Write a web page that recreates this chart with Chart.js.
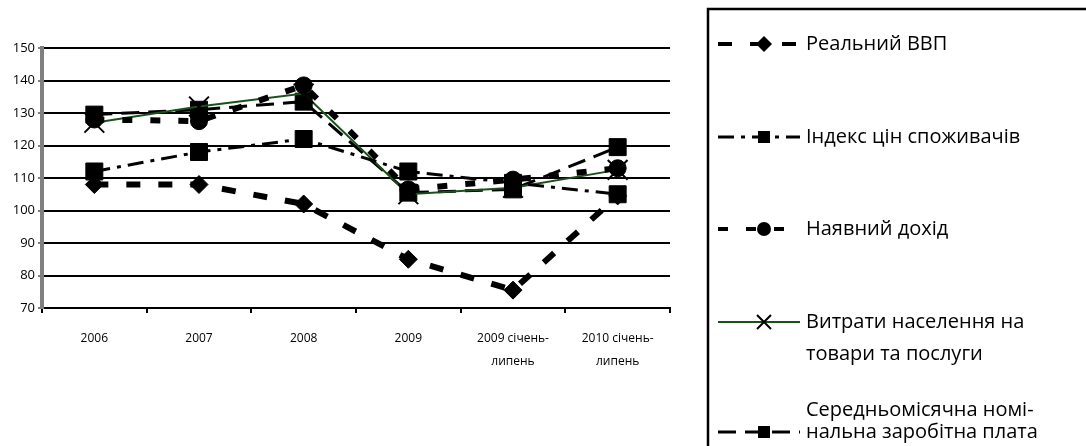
<!DOCTYPE html>
<html lang="uk">

<head>
  <meta charset="UTF-8" />
  <title>Динаміка показників</title>
  <script src="https://cdn.jsdelivr.net/npm/chart.js@4.4.0/dist/chart.umd.min.js"></script>
  <style>
    body { margin: 0; background: #fff; }
    #chart { display: block; }
  </style>
</head>

<body>
  <canvas id="chart" width="1086" height="446"></canvas>

  <script>
    // categories and series (index, % to previous period)
    const years = ["2006", "2007", "2008", "2009", ["2009 січень-", "липень"], ["2010 січень-", "липень"]];
    const gdp = [108, 108, 102, 85, 75.5, 104.5];
    const cpi = [112, 118, 122, 112, 108.5, 105];
    const income = [128, 127.5, 138.5, 106.5, 109.5, 113];
    const spending = [127, 132, 136, 105, 107, 112.5];
    const wages = [129.5, 131, 133.5, 105.5, 106.5, 119.5];
    const seriesNames = [
      ["Реальний ВВП"],
      ["Індекс цін споживачів"],
      ["Наявний дохід"],
      ["Витрати населення на", "товари та послуги"],
      ["Середньомісячна номі-", "нальна заробітна плата"],
    ];

    const FONT = "'Open Sans', 'Noto Sans', sans-serif";
    const GREEN = "#1a501a";

    function drawMarker(ctx, style, x, y, r) {
      ctx.beginPath();
      if (style === "rectRot") {
        ctx.moveTo(x - r, y); ctx.lineTo(x, y - r); ctx.lineTo(x + r, y); ctx.lineTo(x, y + r);
        ctx.closePath(); ctx.fill();
      } else if (style === "rect") {
        ctx.rect(x - r, y - r, 2 * r, 2 * r); ctx.fill();
      } else if (style === "circle") {
        ctx.arc(x, y, r, 0, Math.PI * 2); ctx.fill();
      } else {
        ctx.lineWidth = 2;
        ctx.moveTo(x - r, y - r); ctx.lineTo(x + r, y + r);
        ctx.moveTo(x + r, y - r); ctx.lineTo(x - r, y + r);
        ctx.stroke();
      }
    }

    // legend on the right, drawn on the canvas
    const sideLegend = {
      id: "sideLegend",
      afterDraw(chart) {
        const ctx = chart.ctx;
        const rows = [
          { y: 44, text: [44] },
          { y: 137, text: [137] },
          { y: 229, text: [229] },
          { y: 322, text: [322, 354] },
          { y: 432, text: [410, 432] },
        ];
        const mSize = [8, 6, 7, 7, 6];
        ctx.save();
        ctx.strokeStyle = "#000";
        ctx.lineWidth = 2.5;
        ctx.strokeRect(708, 9, 600, 600);
        chart.data.datasets.forEach((ds, i) => {
          const row = rows[i];
          ctx.save();
          ctx.strokeStyle = ds.borderColor;
          ctx.lineWidth = Math.min(ds.borderWidth, 4);
          ctx.setLineDash(ds.borderDash || []);
          ctx.beginPath();
          ctx.moveTo(718, row.y);
          ctx.lineTo(800, row.y);
          ctx.stroke();
          ctx.restore();
          ctx.fillStyle = "#000";
          ctx.strokeStyle = "#000";
          drawMarker(ctx, ds.pointStyle, 764, row.y, mSize[i]);
          ctx.fillStyle = "#000";
          ctx.font = "20px " + FONT;
          ctx.textBaseline = "middle";
          ctx.textAlign = "left";
          seriesNames[i].forEach((line, k) => ctx.fillText(line, 806, row.text[k]));
        });
        ctx.restore();
      },
    };

    const chart = new Chart(document.getElementById("chart").getContext("2d"), {
      type: "line",
      data: {
        labels: years,
        datasets: [{
          label: seriesNames[0].join(" "),
          data: gdp,
          borderColor: "#000",
          borderWidth: 6,
          borderDash: [14, 18],
          pointStyle: "rectRot",
          pointRadius: 9,
        }, {
          label: seriesNames[1].join(" "),
          data: cpi,
          borderColor: "#000",
          borderWidth: 3,
          borderDash: [16, 7, 4, 7],
          pointStyle: "rect",
          pointRadius: 12,
        }, {
          label: seriesNames[2].join(" "),
          data: income,
          borderColor: "#000",
          borderWidth: 6,
          borderDash: [10, 18],
          pointStyle: "circle",
          pointRadius: 8.5,
        }, {
          label: seriesNames[3].join(" "),
          data: spending,
          borderColor: GREEN,
          borderWidth: 2,
          pointStyle: "crossRot",
          pointRadius: 14,
          pointBorderWidth: 2,
        }, {
          label: seriesNames[4].join(" "),
          data: wages,
          borderColor: "#000",
          borderWidth: 3,
          borderDash: [18, 9],
          pointStyle: "rect",
          pointRadius: 12,
        }, ],
      },
      options: {
        responsive: false,
        animation: false,
        datasets: {
          line: {
            tension: 0,
            fill: false,
            borderCapStyle: "butt",
            pointBackgroundColor: "#000",
            pointBorderColor: "#000",
            pointBorderWidth: 1,
          },
        },
        layout: { padding: { left: 0, right: 416, top: 48, bottom: 78 } },
        plugins: {
          legend: { display: false },
          tooltip: { enabled: false },
        },
        scales: {
          x: {
            offset: true,
            grid: {
              offset: true,
              drawOnChartArea: false,
              color: "#000",
              tickLength: 5,
              lineWidth: 2,
            },
            border: { color: "#000", width: 2 },
            ticks: {
              color: "#000",
              font: { family: FONT, size: 12, lineHeight: 1.9 },
              padding: 14,
              maxRotation: 0,
              autoSkip: false,
            },
            afterFit(s) { s.height = 60; },
          },
          y: {
            min: 70,
            max: 150,
            ticks: {
              stepSize: 10,
              color: "#000",
              font: { family: FONT, size: 13 },
              padding: 3,
            },
            grid: {
              color: "#000",
              lineWidth: 2,
              tickColor: "#808080",
              tickLength: 4,
              tickWidth: 2,
            },
            border: { color: "#808080", width: 4 },
            afterFit(s) { s.width = 42; },
          },
        },
      },
      plugins: [sideLegend],
    });
  </script>
</body>

</html>
